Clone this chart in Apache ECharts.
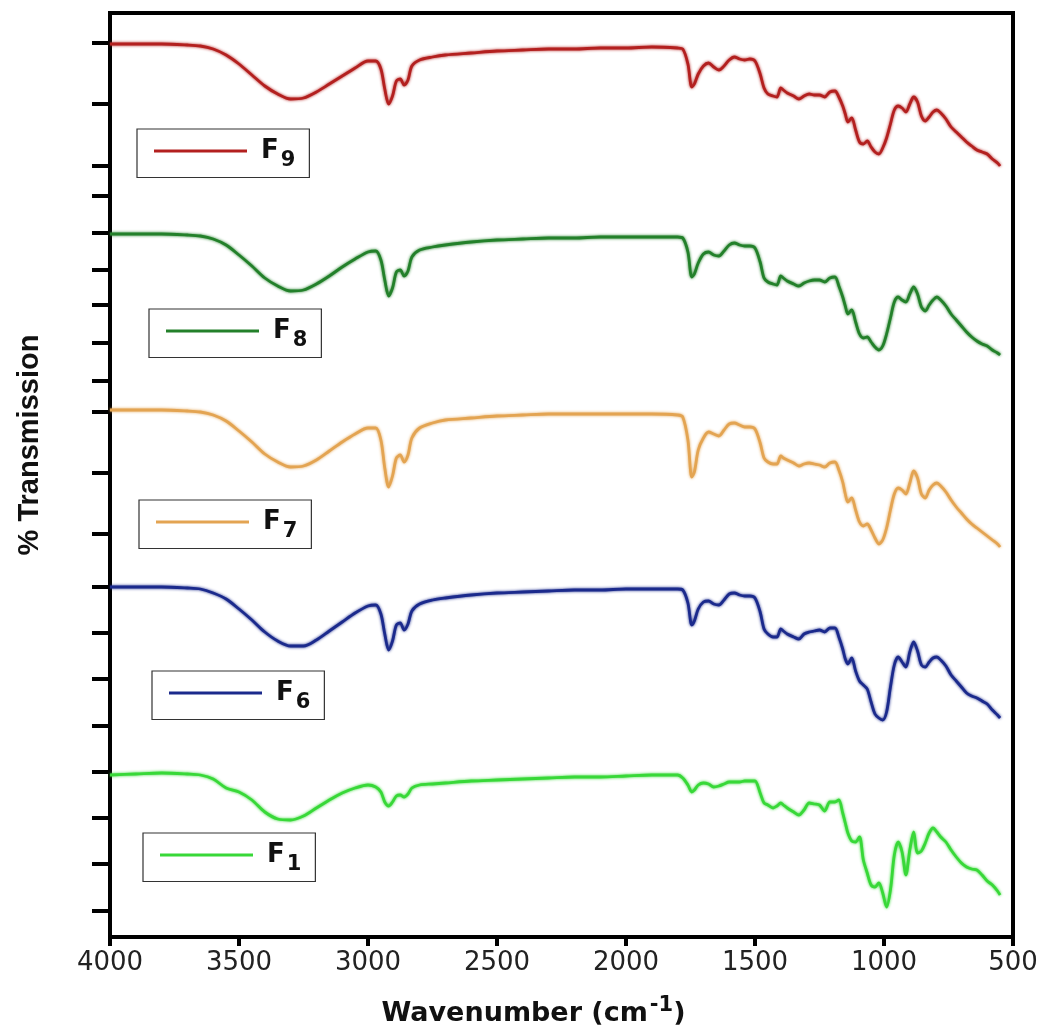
<!DOCTYPE html>
<html>
<head>
<meta charset="utf-8">
<script src="https://cdn.jsdelivr.net/npm/echarts@6/dist/echarts.min.js"></script>
<style>html,body{margin:0;padding:0;background:#fff}#c{width:1043px;height:1033px}</style>
</head>
<body>
<div id="c"></div>
<script>
// Wavenumber grid (cm^-1)
const wavenumbers = [4000,3900,3800,3700,3650,3600,3550,3500,3450,3400,3350,3300,3250,3200,3150,3100,3050,3000,2970,2950,2935,2920,2905,2890,2875,2860,2845,2830,2800,2750,2700,2600,2500,2400,2300,2200,2100,2000,1900,1800,1780,1760,1745,1735,1720,1700,1680,1660,1640,1620,1600,1580,1560,1540,1520,1500,1480,1465,1450,1430,1415,1400,1390,1375,1350,1330,1310,1290,1270,1250,1230,1210,1190,1175,1160,1150,1140,1125,1110,1095,1080,1065,1050,1035,1020,1005,990,975,960,945,930,915,900,885,870,855,840,825,810,795,780,760,740,720,700,680,660,640,620,600,580,560,550];

// Stacking offsets (arbitrary units) for each spectrum
const offsets = { F9: 893, F8: 703, F7: 527, F6: 350, F1: 162 };

// Transmission drop below each spectrum's baseline (arbitrary units)
const dropF9 = [0,0,0,1,2,5,11,20,31,42,50,55,54,48,40,32,24,17,17,25,45,60,52,37,35,41,36,22,16,13,11,9,7,6,5,5,4,4,3,4,5,20,43,40,30,22,19,23,26,22,16,13,15,16,15,17,30,44,50,52,53,44,46,49,52,55,52,50,51,51,53,48,47,53,62,70,78,74,86,98,100,97,103,108,110,104,94,80,66,62,64,68,60,53,58,72,77,73,68,66,69,75,83,88,93,98,102,106,108,110,115,119,122];
const dropF8 = [0,0,0,1,2,5,11,21,32,44,52,57,56,50,42,33,25,18,17,26,46,62,54,38,36,42,37,23,16,13,11,8,6,5,4,4,3,3,3,3,4,18,43,40,29,20,18,21,22,17,11,9,11,12,12,14,28,44,48,50,51,42,44,47,50,52,49,47,46,46,48,44,43,52,63,72,80,76,88,100,104,103,108,113,116,112,100,84,68,63,66,68,60,53,60,73,77,71,66,63,66,72,80,86,92,98,103,107,110,112,116,119,121];
const dropF7 = [0,0,0,1,2,5,11,21,32,44,52,57,56,50,41,32,24,18,18,30,58,77,66,48,45,52,45,28,18,13,10,8,6,5,4,4,4,4,4,5,7,30,67,62,40,28,22,24,26,20,14,13,15,17,17,19,33,48,52,54,54,46,48,50,53,56,54,53,54,55,57,53,52,60,72,84,92,88,100,112,116,114,120,128,134,130,118,100,84,78,80,84,73,61,68,84,88,80,75,73,76,82,90,97,103,109,114,118,122,126,130,134,137];
const dropF6 = [0,0,0,1,2,6,12,22,33,45,54,59,59,53,44,35,26,19,18,27,47,63,54,38,36,43,37,24,17,13,11,8,6,5,4,3,3,2,2,2,3,16,38,34,22,15,14,17,18,13,7,6,8,9,9,11,25,42,47,50,50,42,44,47,50,52,47,45,44,43,45,41,41,50,62,72,77,71,84,94,98,102,115,127,131,133,125,100,78,70,75,80,65,55,64,78,80,75,71,70,73,79,88,94,100,106,109,111,114,117,123,128,131];
const dropF1 = [0,-1,-2,-1,0,4,13,17,25,37,44,45,41,33,25,18,13,10,12,17,27,31,27,21,20,22,19,13,10,9,8,6,5,4,3,2,2,1,0,0,3,10,17,15,10,8,9,12,11,9,7,7,7,6,6,6,18,28,30,33,31,28,30,33,37,40,35,28,29,30,36,27,27,25,38,48,58,66,67,62,85,98,110,112,108,118,132,115,80,67,77,100,75,57,78,76,68,58,53,57,62,67,75,82,88,92,94,95,100,106,110,116,120];

// Y-axis tick positions (arbitrary units) and x-axis tick labels
const yTicks = [894,833,771,741,704,667,632,594,556,525,464,403,350,304,258,211,165,119,73,26];
const xTicks = [4000,3500,3000,2500,2000,1500,1000,500];

const seriesDefs = [
  { name: 'F9', drop: dropF9, color: '#b3201f' },
  { name: 'F8', drop: dropF8, color: '#23802a' },
  { name: 'F7', drop: dropF7, color: '#e3a452' },
  { name: 'F6', drop: dropF6, color: '#1b2a8c' },
  { name: 'F1', drop: dropF1, color: '#38d838' }
];
const legendPos = {
  F9: [137, 129], F8: [149, 309], F7: [139, 500], F6: [152, 671], F1: [143, 833]
};

const chart = echarts.init(document.getElementById('c'), null, { renderer: 'canvas' });

const series = seriesDefs.map(s => ({
  name: s.name,
  type: 'line',
  symbol: 'none',
  smooth: 0.3,
  data: wavenumbers.map((w, i) => [w, offsets[s.name] - s.drop[i]]),
  lineStyle: { color: s.color, width: 2.8, shadowColor: s.color, shadowBlur: 3 },
  itemStyle: { color: s.color },
  animation: false
}));

const legends = seriesDefs.map(s => ({
  data: [s.name],
  left: legendPos[s.name][0],
  top: legendPos[s.name][1],
  orient: 'horizontal',
  icon: 'rect',
  itemWidth: 93,
  itemHeight: 3,
  padding: [9, 14, 6, 17],
  borderColor: '#333',
  borderWidth: 1.2,
  backgroundColor: '#fff',
  selectedMode: false,
  formatter: n => '{f|F}{s|' + n.slice(1) + '}',
  textStyle: {
    rich: {
      f: { fontFamily: 'DejaVu Sans', fontWeight: 'bold', fontSize: 26, color: '#111', padding: [0, 0, 0, 9] },
      s: { fontFamily: 'DejaVu Sans', fontWeight: 'bold', fontSize: 21, color: '#111', padding: [20, 0, 0, 2] }
    }
  }
}));

chart.setOption({
  animation: false,
  backgroundColor: '#fff',
  grid: { left: 110, right: 30, top: 13, bottom: 96, show: true, borderColor: '#000', borderWidth: 4 },
  legend: legends,
  xAxis: {
    type: 'value',
    min: 500, max: 4000, interval: 500, inverse: true,
    name: '{t|Wavenumber (cm}{sup|-1}{t|)}',
    nameLocation: 'middle',
    nameGap: 58,
    nameTextStyle: {
      padding: [0, 56, 0, 0],
      rich: {
        t: { fontFamily: 'DejaVu Sans', fontWeight: 'bold', fontSize: 27, color: '#111' },
        sup: { fontFamily: 'DejaVu Sans', fontWeight: 'bold', fontSize: 21, color: '#111', padding: [0, 0, 16, 2] }
      }
    },
    axisLine: { lineStyle: { color: '#000', width: 4 } },
    axisTick: { length: 9, lineStyle: { width: 4, color: '#000' }, customValues: xTicks },
    axisLabel: { fontFamily: 'DejaVu Sans', fontSize: 26, color: '#222', margin: 13, customValues: xTicks, formatter: v => String(v) },
    splitLine: { show: false }
  },
  yAxis: {
    type: 'value',
    min: 0, max: 924,
    name: '% Transmission',
    nameLocation: 'middle',
    nameGap: 66,
    nameTextStyle: { fontFamily: 'Liberation Sans', fontWeight: 'bold', fontSize: 29, color: '#111', padding: [0, 0, 0, 60] },
    axisLine: { lineStyle: { color: '#000', width: 4 } },
    axisTick: { length: 18, lineStyle: { width: 4, color: '#000' }, customValues: yTicks },
    axisLabel: { show: false },
    splitLine: { show: false }
  },
  series: series
});
</script>
</body>
</html>
